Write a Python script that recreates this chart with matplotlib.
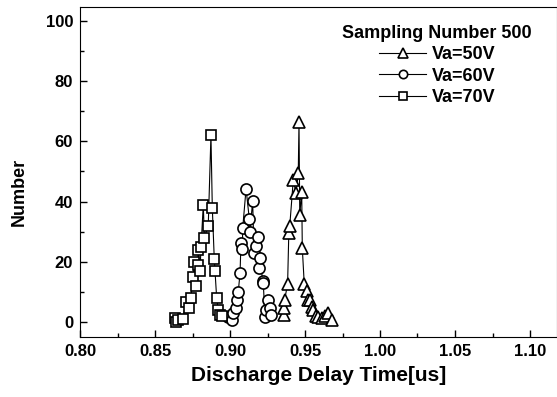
import matplotlib
matplotlib.use("Agg")
import matplotlib.pyplot as plt
from matplotlib.ticker import MultipleLocator

plt.rcParams["font.family"] = ["Liberation Sans", "DejaVu Sans"]
plt.rcParams["font.weight"] = "bold"

# Va = 50 V (triangles)
t50 = [0.9360, 0.9362, 0.9364, 0.9384, 0.9392, 0.9398, 0.9422, 0.9440, 0.9455,
       0.9460, 0.9465, 0.9478, 0.9482, 0.9495, 0.9510, 0.9522, 0.9533, 0.9545,
       0.9555, 0.9570, 0.9589, 0.9611, 0.9630, 0.9655, 0.9678]
n50 = [2.3, 4.5, 7.3, 12.6, 29.5, 31.7, 47.2, 42.8, 49.4,
       66.3, 35.5, 43.3, 24.5, 12.6, 10.4, 7.3, 7.3, 5.0,
       4.0, 2.0, 1.8, 1.2, 2.0, 2.9, 0.7]

# Va = 60 V (circles)
t60 = [0.8985, 0.9011, 0.9022, 0.9038, 0.9049, 0.9055, 0.9067, 0.9073, 0.9082,
       0.9085, 0.9107, 0.9129, 0.9133, 0.9151, 0.9160, 0.9173, 0.9185, 0.9193,
       0.9200, 0.9218, 0.9222, 0.9233, 0.9240, 0.9255, 0.9267, 0.9271]
n60 = [1.8, 0.7, 2.9, 4.5, 7.3, 10.0, 16.2, 26.1, 24.2,
       31.3, 44.2, 34.1, 30.0, 40.2, 23.0, 25.2, 28.3, 18.0,
       21.2, 13.6, 12.8, 1.8, 4.0, 7.3, 4.5, 2.3]

# Va = 70 V (squares)
t70 = [0.8633, 0.8640, 0.8650, 0.8685, 0.8707, 0.8729, 0.8738, 0.8756, 0.8762,
       0.8771, 0.8784, 0.8789, 0.8800, 0.8807, 0.8822, 0.8829, 0.8855, 0.8873,
       0.8882, 0.8895, 0.8900, 0.8911, 0.8922, 0.8933, 0.8944]
n70 = [1.3, 0.0, 0.5, 0.9, 6.7, 4.5, 8.0, 15.0, 20.0,
       12.0, 19.0, 24.0, 17.0, 25.0, 39.0, 28.0, 32.0, 62.0,
       38.0, 21.0, 17.0, 8.0, 4.0, 2.3, 2.0]

series = [
    (t50, n50, "^", 9, "Va=50V"),
    (t60, n60, "o", 8, "Va=60V"),
    (t70, n70, "s", 7, "Va=70V"),
]

fig = plt.figure(figsize=(5.57, 3.97), dpi=100)
ax = fig.add_axes([80 / 557, 60 / 397, 477 / 557, 330 / 397])

for x, y, mk, ms, lab in series:
    ax.plot(x, y, color="black", lw=0.8, marker=mk, ms=ms, mfc="white",
            mec="black", mew=1.2, label=lab)

ax.set_xlim(0.80, 0.80 + 477 / 1500)
ax.set_ylim(-5, 104.6)
ax.xaxis.set_major_locator(MultipleLocator(0.05))
ax.xaxis.set_minor_locator(MultipleLocator(0.025))
ax.yaxis.set_major_locator(MultipleLocator(20))
ax.yaxis.set_minor_locator(MultipleLocator(10))
ax.xaxis.set_major_formatter(plt.FormatStrFormatter("%.2f"))
ax.tick_params(which="both", direction="in", top=False, right=False)
ax.tick_params(which="major", length=5, width=1, labelsize=12, pad=5)
ax.tick_params(which="minor", length=3, width=1)
for lbl in ax.get_xticklabels() + ax.get_yticklabels():
    lbl.set_fontweight("bold")

ax.set_xlabel("Discharge Delay Time[us]", fontsize=15, fontweight="bold",
              labelpad=5)
ax.set_ylabel("Number", fontsize=13, fontweight="bold")
ax.yaxis.set_label_coords(-0.11, 0.44)

leg = ax.legend(loc="upper right", bbox_to_anchor=(0.978, 0.99), frameon=False,
                title="Sampling Number 500", fontsize=13, handlelength=2.6,
                markerscale=0.75, labelspacing=0.25, handletextpad=0.3,
                borderpad=0.3)
leg.get_title().set_fontweight("bold")
leg.get_title().set_fontsize(13)
for txt in leg.get_texts():
    txt.set_fontweight("bold")

fig.savefig("out.png", dpi=100)
